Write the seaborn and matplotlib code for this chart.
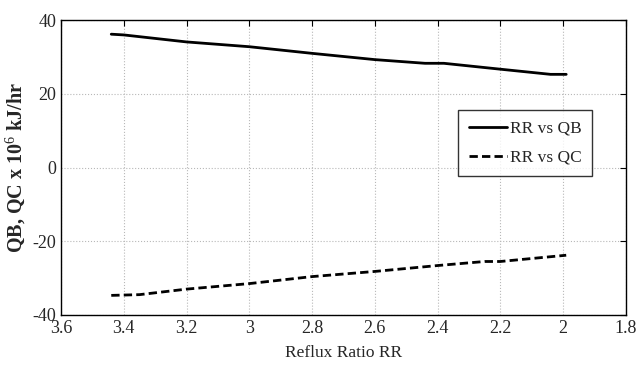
import matplotlib
matplotlib.use("Agg")
import matplotlib.pyplot as plt
import seaborn as sns
import pandas as pd

rr_qb = [3.44, 3.4, 3.2, 3.0, 2.8, 2.6, 2.44, 2.38, 2.2, 2.04, 1.99]
qb = [36.2, 36.0, 34.1, 32.8, 31.0, 29.3, 28.3, 28.3, 26.7, 25.3, 25.3]
rr_qc = [3.44, 3.35, 3.2, 3.0, 2.8, 2.6, 2.4, 2.25, 2.2, 1.99]
qc = [-34.7, -34.5, -33.0, -31.5, -29.6, -28.2, -26.6, -25.5, -25.5, -23.8]
series_names = ["RR vs QB", "RR vs QC"]

df = pd.concat([
    pd.DataFrame({"RR": rr_qb, "Q": qb, "series": series_names[0]}),
    pd.DataFrame({"RR": rr_qc, "Q": qc, "series": series_names[1]}),
], ignore_index=True)

sns.set_style("white")
plt.rcParams['font.family'] = ['Liberation Serif', 'DejaVu Serif']
plt.rcParams['mathtext.fontset'] = 'custom'
plt.rcParams['mathtext.rm'] = 'Liberation Serif'
plt.rcParams['mathtext.bf'] = 'Liberation Serif:bold'
plt.rcParams['axes.unicode_minus'] = False

fig = plt.figure(figsize=(6.36, 3.74), dpi=100)
ax = fig.add_axes([0.096, 0.158, 0.888, 0.788])

sns.lineplot(data=df, x="RR", y="Q", hue="series", style="series",
             palette=["black", "black"], dashes=[(None, None), (3, 1.5)],
             linewidth=2, sort=False, estimator=None, ax=ax)

ax.set_xlim(3.6, 1.8)
ax.set_ylim(-40, 40)
ax.set_xticks([3.6, 3.4, 3.2, 3.0, 2.8, 2.6, 2.4, 2.2, 2.0, 1.8])
ax.set_xticklabels(["3.6", "3.4", "3.2", "3", "2.8", "2.6", "2.4", "2.2", "2", "1.8"])
ax.set_yticks([-40, -20, 0, 20, 40])
ax.grid(True, color="#b8b8b8", linestyle=":", linewidth=0.8)
ax.tick_params(direction="in", top=True, right=True, length=4, labelsize=13, color="black")
for s in ax.spines.values():
    s.set_color("black")
    s.set_linewidth(1.0)

ax.set_xlabel("Reflux Ratio RR", fontsize=12.5, labelpad=6)
ax.set_ylabel(r"QB, QC x 10$^{6}$ kJ/hr", fontsize=14.5, fontweight="bold", labelpad=3)

handles, labels = ax.get_legend_handles_labels()
leg = ax.legend(handles=handles, labels=labels, loc="upper left",
                bbox_to_anchor=(0.703, 0.695), fontsize=12.5, frameon=True,
                fancybox=False, edgecolor="black", handlelength=2.2,
                borderpad=0.6, labelspacing=0.75, handletextpad=0.2,
                borderaxespad=0)
leg.get_frame().set_linewidth(1.0)

fig.savefig("out.png", dpi=100)
